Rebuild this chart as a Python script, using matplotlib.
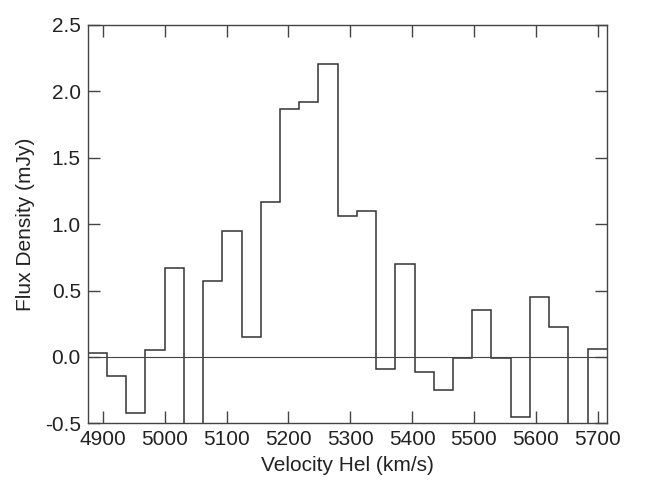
import matplotlib
matplotlib.use("Agg")
import matplotlib.pyplot as plt
import numpy as np

# Channel data (heliocentric velocity, km/s) and flux density (mJy)
v_start = 4875.5          # left edge of first channel
chan_width = 31.08        # channel width, km/s
flux = [0.03, -0.14, -0.42, 0.05, 0.67, -0.60, 0.57, 0.945, 0.15,
        1.17, 1.87, 1.92, 2.21, 1.06, 1.10, -0.09, 0.70, -0.11,
        -0.25, -0.01, 0.35, -0.01, -0.45, 0.45, 0.225, -0.60, 0.06]
xticks = [4900, 5000, 5100, 5200, 5300, 5400, 5500, 5600, 5700]
yticks = [-0.5, 0.0, 0.5, 1.0, 1.5, 2.0, 2.5]

edges = v_start + chan_width * np.arange(len(flux) + 1)

plt.rcParams['font.family'] = ['Liberation Sans', 'DejaVu Sans']
fig = plt.figure(figsize=(6.45, 4.98), dpi=100)
ax = fig.add_axes([0.136, 0.15, 0.8047, 0.7998])

ax.stairs(flux, edges, color='#333333', lw=1.1, baseline=None)
ax.axhline(0, color='#444444', lw=0.8)

ax.set_xlim(edges[0], edges[-1])
ax.set_ylim(-0.5, 2.5)
ax.set_xticks(xticks)
ax.set_yticks(yticks)
ax.set_yticklabels([f"{t:.1f}" for t in yticks])
ax.tick_params(direction='in', length=8.5, width=1.0, color='#444444',
               top=True, right=True, labelsize=15, labelcolor='#222222')
ax.tick_params(axis='y', pad=5)
ax.tick_params(axis='x', pad=5)
for s in ax.spines.values():
    s.set_color('#444444')
    s.set_linewidth(1.0)

ax.set_xlabel('Velocity Hel (km/s)', fontsize=15, color='#222222', labelpad=5)
ax.set_ylabel('Flux Density (mJy)', fontsize=15, color='#222222', labelpad=7)

fig.savefig('out.png', dpi=100)
